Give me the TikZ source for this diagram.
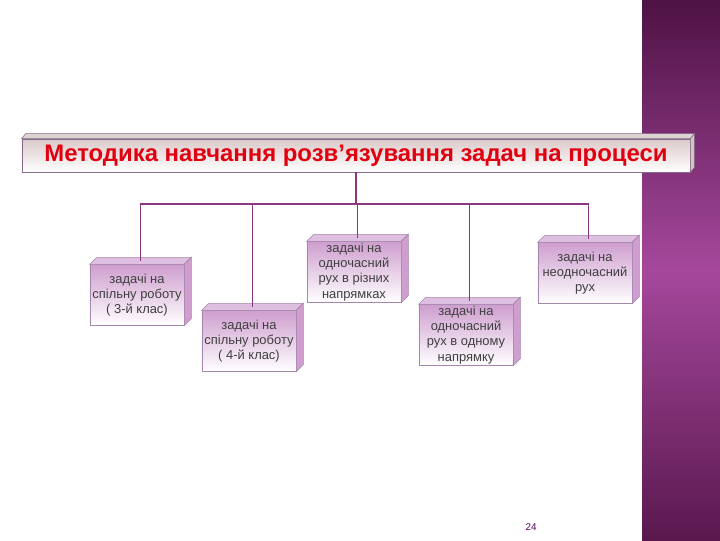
\documentclass[tikz,border=0pt]{standalone}
\usepackage{fontspec}
\setmainfont{Liberation Sans}
\usetikzlibrary{positioning,calc}
\definecolor{linkline}{HTML}{8A3680}
\definecolor{boxedge}{HTML}{A587AD}
\definecolor{titlered}{HTML}{E00010}
\definecolor{bandtop}{HTML}{4E1244}
\definecolor{bandmid}{HTML}{A5489C}
\definecolor{bandbot}{HTML}{5A184E}
\tikzset{
    % Rahmen des Titels
    titlebox/.style={draw=boxedge!80!black, rectangle, align=center,
                     minimum width=16.7cm, minimum height=0.83cm,
                     top color=red!20!gray!35, bottom color=white,
                     text=titlered, font=\fontsize{17}{19}\selectfont\bfseries},
    % Kaestchen der Aufgabenarten
    taskbox/.style={draw=boxedge, rectangle, align=center,
                    minimum width=2.35cm, minimum height=1.52cm,
                    inner sep=1pt,
                    top color=violet!38!white, bottom color=white,
                    text=black!75, font=\fontsize{9.2}{10.8}\selectfont},
    link/.style={draw=linkline, line width=1.4pt}
}
\begin{document}
\begin{tikzpicture}[x=0.025cm, y=-0.025cm]
    \useasboundingbox (0,0) rectangle (720,540);
    \fill[white] (0,0) rectangle (720,540);
    % purple band on the right
    \shade[top color=bandtop, bottom color=bandbot, middle color=bandmid]
        (642,0) rectangle (720,540);

    \node[titlebox] (title) at (356,155.5)
        {Методика навчання розв’язування задач на процеси};
    \node[taskbox] (joint3) at (137,295)
        {задачі на\\спільну роботу\\( 3-й клас)};
    \node[taskbox] (joint4) at (249,341)
        {задачі на\\спільну роботу\\( 4-й клас)};
    \node[taskbox] (opposite) at (354,272)
        {задачі на\\одночасний\\рух в різних\\напрямках};
    \node[taskbox] (same) at (466,335)
        {задачі на\\одночасний\\рух в одному\\напрямку};
    \node[taskbox] (delayed) at (585,273)
        {задачі на\\неодночасний\\рух};

    % depth faces of the title
    \filldraw[draw=boxedge!80!black, fill=red!15!gray!30]
        (title.north west) -- ++(4,-5) -- ($(title.north east)+(4,-5)$)
        -- (title.north east) -- cycle;
    \filldraw[draw=boxedge!80!black, fill=red!20!gray!40]
        (title.north east) -- ++(4,-5) -- ($(title.south east)+(4,-5)$)
        -- (title.south east) -- cycle;

    % depth faces of the boxes
    \foreach \b in {joint3,joint4,opposite,same,delayed}{
        \filldraw[draw=boxedge, fill=violet!25!white]
            (\b.north west) -- ++(7,-7) -- ($(\b.north east)+(7,-7)$)
            -- (\b.north east) -- cycle;
        \filldraw[draw=boxedge, fill=violet!38!white]
            (\b.north east) -- ++(7,-7) -- ($(\b.south east)+(7,-7)$)
            -- (\b.south east) -- cycle;
        \coordinate (\b-top) at ($(\b.north)+(3.5,-3.5)$);
    }

    \coordinate (bus) at ($(title.south)+(0,32)$);
    \foreach \b in {joint3,joint4,opposite,same,delayed}
        \draw[link] (title.south) -- (bus) -| (\b-top);

    \node[text=violet!70!black, font=\fontsize{7}{8}\selectfont] (page) at (531,527) {24};
\end{tikzpicture}
\end{document}
